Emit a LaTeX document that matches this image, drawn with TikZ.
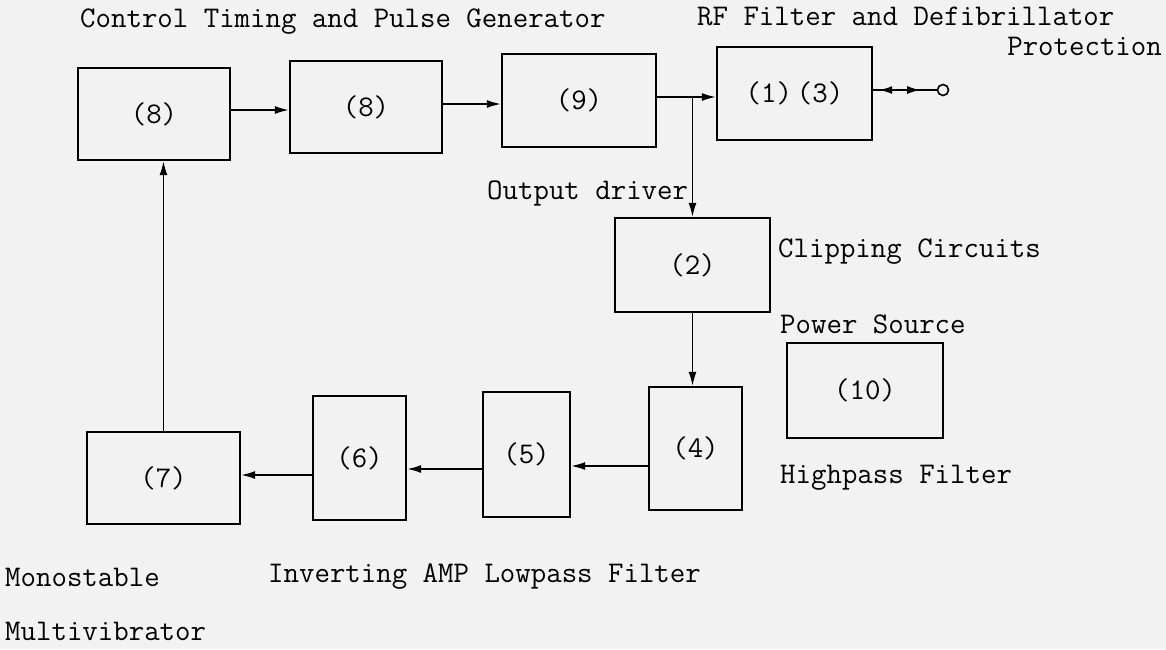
\documentclass[tikz,border=0pt]{standalone}
\usepackage{tikz}
\usetikzlibrary{arrows.meta, positioning, calc, decorations.markings}

\begin{document}
\begin{tikzpicture}[x=1pt, y=-1pt,
  blk/.style={draw, line width=2.3pt, inner sep=0pt, font=\ttfamily\fontsize{30}{36}\selectfont},
  lbl/.style={anchor=west, inner sep=0pt, font=\ttfamily\fontsize{30}{36}\selectfont},
  arr/.style={line width=1.6pt, -{Latex[length=14pt, width=8pt]}},
  wire/.style={line width=1.6pt}]
  \fill[black!5] (0,0) rectangle (1166,649);
  \useasboundingbox (0,0) rectangle (1166,649);

  % top row
  \node[blk, minimum width=152, minimum height=92] (ctla) at (154,114)   {(8)};
  \node[blk, minimum width=152, minimum height=92] (ctlb) at (366,107)   {(8)};
  \node[blk, minimum width=154, minimum height=93] (drv)  at (579,100.5) {(9)};
  \node[blk, minimum width=155, minimum height=93] (rf)   at (794.5,93.5) {(1)\,(3)};
  \node[circle, draw, line width=1.6pt, minimum size=11pt, inner sep=0pt] (term) at (943,90) {};

  % middle
  \node[blk, minimum width=155, minimum height=94] (clip) at (692.5,265) {(2)};
  \node[blk, minimum width=156, minimum height=95] (pwr)  at (865,390.5) {(10)};

  % bottom row
  \node[blk, minimum width=93,  minimum height=123] (hp)   at (695.5,448.5) {(4)};
  \node[blk, minimum width=87,  minimum height=125] (lp)   at (526.5,454.5) {(5)};
  \node[blk, minimum width=93,  minimum height=124] (inv)  at (359.5,458)   {(6)};
  \node[blk, minimum width=153, minimum height=92]  (mono) at (163.5,478)   {(7)};

  % labels
  \node[lbl] (tctl)  at (80,22)   {Control Timing and Pulse Generator};
  \node[lbl] (trf)   at (697,16)  {RF Filter and Defibrillator};
  \node[lbl, anchor=east] (tprot) at (1162,46) {Protection};
  \node[lbl] (tdrv)  at (487,193) {Output driver};
  \node[lbl] (tclip) at (778,252) {Clipping Circuits};
  \node[lbl] (tpwr)  at (780,324) {Power Source};
  \node[lbl] (thp)   at (780,478) {Highpass Filter};
  \node[lbl] (tinv)  at (268,577) {Inverting AMP Lowpass Filter};
  \node[lbl] (tmono) at (5,577)   {Monostable};
  \node[lbl] (tmult) at (5,631)   {Multivibrator};

  % connectors
  \draw[arr] (ctla.east |- 0,110) -- (ctlb.west |- 0,110);
  \draw[arr] (ctlb.east |- 0,104) -- (drv.west |- 0,104);
  \draw[arr] (drv.east |- 0,97) -- (rf.west |- 0,97);
  \draw[arr] (clip.north |- 0,97) -- (clip.north);
  \draw[arr] (clip.south) -- (clip.south |- hp.north);
  \draw[arr] (hp.west |- 0,466) -- (lp.east |- 0,466);
  \draw[arr] (lp.west |- 0,469) -- (inv.east |- 0,469);
  \draw[arr] (inv.west |- 0,475) -- (mono.east |- 0,475);
  \draw[arr] (mono.north) -- (mono.north |- ctla.south);
  \draw[wire, postaction=decorate, decoration={markings,
      mark=at position 0.30 with {\arrow{Latex[length=13pt, width=8pt, reversed]}},
      mark=at position 0.74 with {\arrow{Latex[length=13pt, width=8pt]}}}]
    (rf.east |- term.west) -- (term.west);
\end{tikzpicture}
\end{document}
